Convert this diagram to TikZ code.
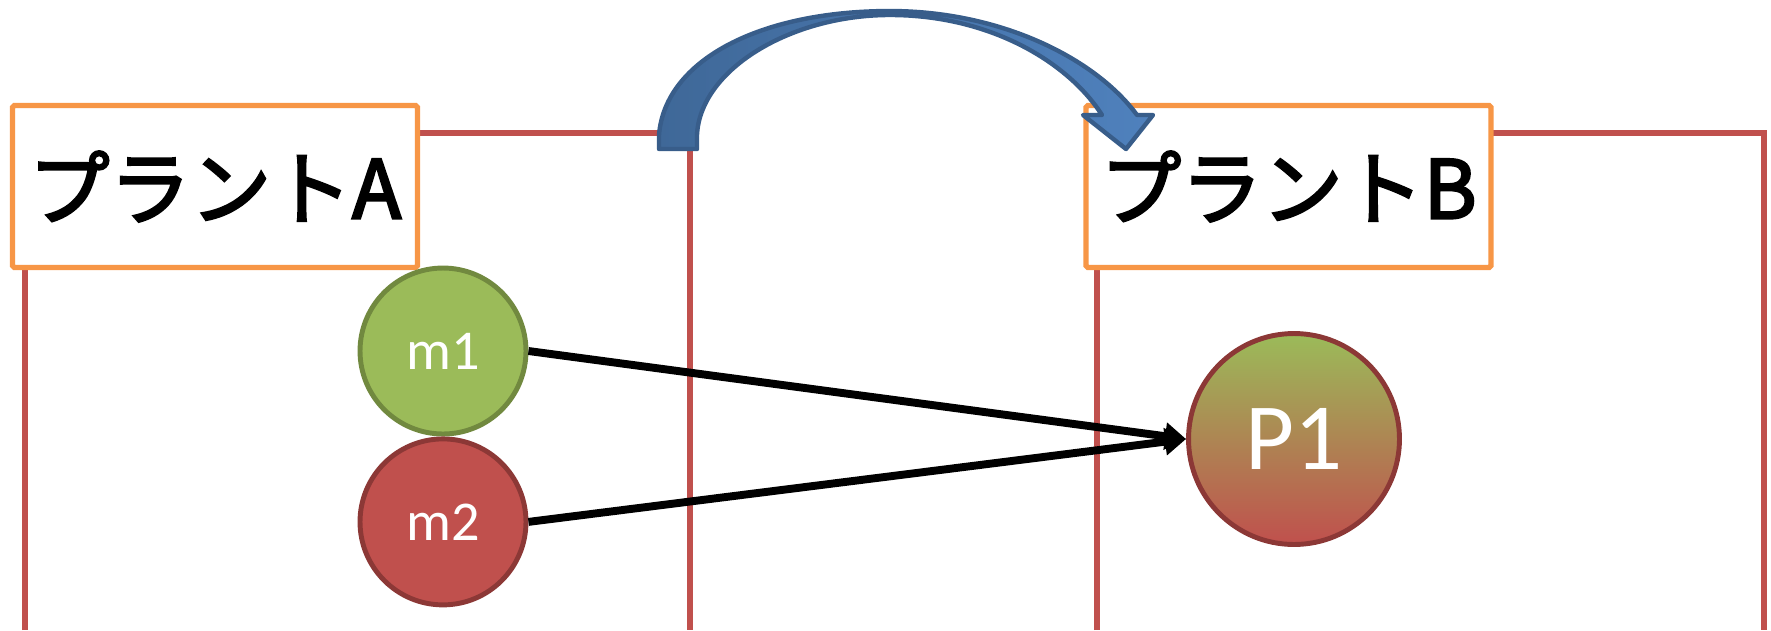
\documentclass[tikz,border=0pt]{standalone}
\usepackage{fontspec}
\newfontfamily\jpfont[FakeBold=3]{Noto Sans CJK JP}
\newfontfamily\calfont{Carlito}
\usepackage{tikz}
\usetikzlibrary{positioning,arrows.meta}
\usepackage{xcolor}
\definecolor{frameRed}{HTML}{C0504D}
\definecolor{boxOrange}{HTML}{F79646}
\definecolor{matGreen}{HTML}{9BBB59}
\definecolor{matGreenEdge}{HTML}{71893F}
\definecolor{matRed}{HTML}{C0504D}
\definecolor{matRedEdge}{HTML}{8C3836}
\definecolor{jumpDark}{HTML}{3F6898}
\definecolor{jumpLight}{HTML}{4F81BD}
\definecolor{jumpEdge}{HTML}{385D8A}

\begin{document}
\begin{tikzpicture}[x=0.02cm,y=-0.02cm,>={Triangle[length=12pt,width=15pt]},
  frame/.style={draw=frameRed,line width=3pt},
  plantbox/.style={draw=boxOrange,line width=3pt,fill=white,rounded corners=1pt,
    minimum width=8.1cm,minimum height=3.24cm,inner sep=0pt,
    font=\jpfont\fontsize{46}{50}\selectfont},
  matnode/.style={circle,line width=2.8pt,minimum size=3.32cm,inner sep=0pt,
    text=white,font=\calfont\fontsize{32}{36}\selectfont},
  flow/.style={->,line width=4.5pt}]
\useasboundingbox (0,0) rectangle (1771,630);
% plant frames
\draw[frame] (25,630) -- (25,133) -- (690,133) -- (690,630);
\draw[frame] (1097,630) -- (1097,133) -- (1764,133) -- (1764,630);
\node (plantA) [plantbox] at (215,186.5) {プラントA};
\node (plantB) [plantbox] at (1288.5,186.5) {プラントB};
% curved transfer arrow
\draw[draw=jumpEdge,line width=2.5pt,line join=round,left color=jumpDark,right color=jumpLight]
  (659,149) -- (659,135) .. controls (665,60) and (760,11) .. (890,11)
  .. controls (1000,11) and (1095,58) .. (1137,115) -- (1153,115) -- (1126,149)
  -- (1083,115) -- (1102,115) .. controls (1068,62) and (990,15) .. (890,15)
  .. controls (790,15) and (700,70) .. (697,135) -- (697,149) -- cycle;
% materials and product
\node (m1) [matnode,fill=matGreen,draw=matGreenEdge] at (443,351) {m1};
\node (m2) [matnode,fill=matRed,draw=matRedEdge,below=0pt of m1] {m2};
\node (p1) [matnode,draw=matRedEdge,top color=matGreen,bottom color=matRed,
  minimum size=4.22cm,font=\calfont\fontsize{54}{60}\selectfont] at (1294,439) {P1};
\draw[flow] (m1.east) -- (p1.west);
\draw[flow] (m2.east) -- (p1.west);
\end{tikzpicture}
\end{document}
